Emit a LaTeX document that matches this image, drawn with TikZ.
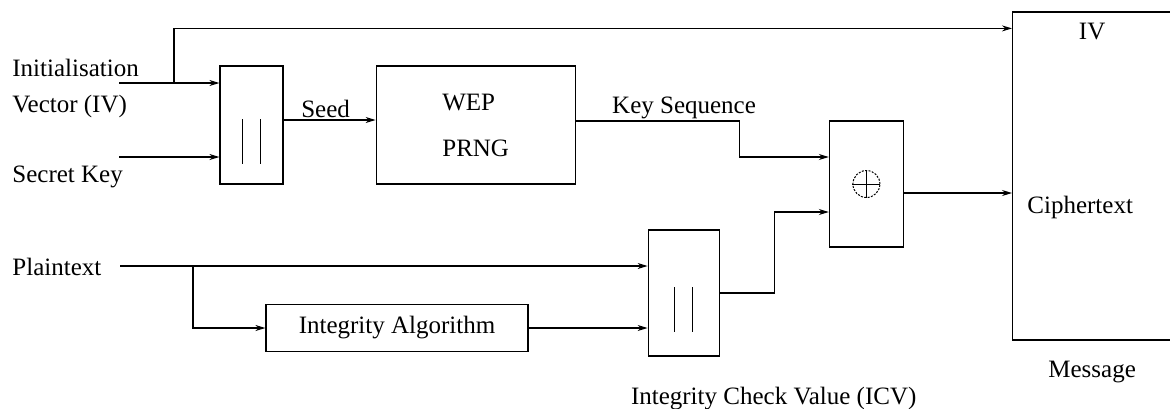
\documentclass[tikz,border=0pt]{standalone}
\usepackage{fontspec}
\setmainfont{Liberation Serif}
\usetikzlibrary{positioning, arrows.meta, calc}

\begin{document}
\begin{tikzpicture}[x=0.5pt, y=-0.5pt,
  every node/.style={font=\fontsize{12.5}{18}\selectfont},
  blk/.style={draw, line width=0.6pt, inner sep=0pt},
  catbox/.style={blk,
    path picture={
      \draw[line width=0.6pt]
        ([xshift=-4.5pt, yshift=3pt]path picture bounding box.center) -- ++(0,-22.5pt)
        ([xshift=4.5pt, yshift=3pt]path picture bounding box.center) -- ++(0,-22.5pt);
    }},
  lbl/.style={inner sep=0pt, align=left},
  arr/.style={-{Stealth[length=5pt, width=3pt]}, line width=0.6pt}
]
  \useasboundingbox (0,0) rectangle (1170,408);

  % key stream part
  \node[catbox, minimum width=31.5pt, minimum height=59pt] (cat1) at (251.5,125) {};
  \node[blk, right=46pt of cat1, minimum width=99.5pt, minimum height=59pt,
        align=left, font=\fontsize{12.5}{23}\selectfont] (prng) {WEP\\PRNG};
  \node[blk, right=126.5pt of prng, yshift=-29.5pt, minimum width=37pt, minimum height=63pt] (xor) {};
  \node[circle, draw, dash pattern=on 1pt off 0.7pt, line width=0.5pt, minimum size=13.5pt, inner sep=0pt] (xorsym) at (xor) {};
  \draw[line width=0.5pt] (xorsym.north) -- (xorsym.south) (xorsym.west) -- (xorsym.east);
  \node[blk, right=54pt of xor, yshift=4pt, minimum width=79.5pt, minimum height=164pt] (msg) {};

  % integrity part
  \node[catbox, left=54.5pt of xor, yshift=-54.5pt, minimum width=35.5pt, minimum height=63pt] (cat2) {};
  \node[blk, left=59.5pt of cat2, yshift=-17.5pt, minimum width=131pt, minimum height=23.5pt] (integ) {Integrity Algorithm};

  \coordinate (ivin) at (119,83);
  \coordinate (ivtap) at (174,83);
  \coordinate (skin) at (119,157);
  \coordinate (ptin) at (120,266);
  \coordinate (ptsplit) at (193,266);

  % labels
  \node[lbl, anchor=west] (ivlbl) at (12,88) {Initialisation\\Vector (IV)};
  \node[lbl, anchor=west] (sklbl) at (12,177) {Secret Key};
  \node[lbl, anchor=west] (ptlbl) at (12,267) {Plaintext};
  \node[lbl, below=5.5pt of msg.north] (ivpart) {IV};
  \node[lbl, anchor=west] (ctpart) at ([xshift=7.5pt, yshift=-15.5pt]msg.west) {Ciphertext};
  \node[lbl, below=10pt of msg.south] (msglbl) {Message};
  \node[lbl, below=15pt of cat2.south, xshift=45pt] (icvlbl) {Integrity Check Value (ICV)};

  % connectors
  \draw[arr] (ivin) -- (ivin -| cat1.west);
  \draw[arr] (ivtap) |- ([yshift=-8.5pt]msg.north west);
  \draw[arr] (skin) -- (skin -| cat1.west);
  \draw[arr] ([yshift=2.5pt]cat1.east) -- node[lbl, above=1pt, xshift=-2pt] (seedlbl) {Seed} ([yshift=2.5pt]prng.west);
  \draw[arr] ([yshift=2pt]prng.east) -- node[lbl, above=1pt, pos=0.66] (kslbl) {Key Sequence} ++(82pt,0)
    |- ([yshift=13.5pt]xor.west);
  \draw[arr] (cat2.east) -- ++(27.5pt,0) |- ([yshift=-14pt]xor.west);
  \draw[arr] ([yshift=-4.5pt]xor.east) coordinate (xout) -- (xout -| msg.west);
  \draw[arr] (ptin) -- (ptin -| cat2.west);
  \draw[arr] (ptsplit) |- (integ.west);
  \draw[arr] (integ.east) -- (integ.east -| cat2.west);
\end{tikzpicture}
\end{document}
